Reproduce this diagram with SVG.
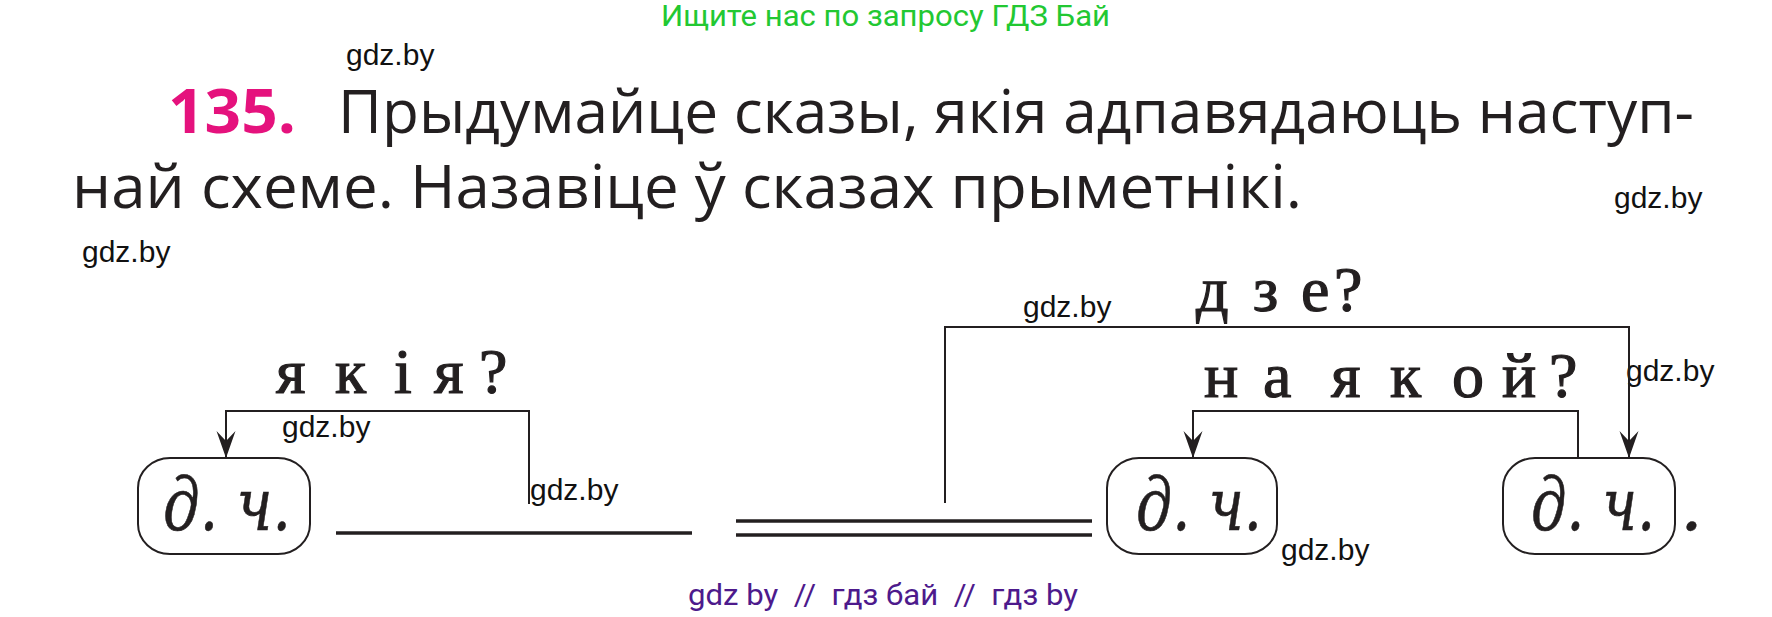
<svg xmlns="http://www.w3.org/2000/svg" width="1772" height="617" viewBox="0 0 1772 617">
<style>
.wm{font-family:"Liberation Sans",Arial,sans-serif;font-size:30px;fill:#111}
.title{font-family:"Open Sans","Noto Sans",sans-serif;font-size:60px;fill:#231f20}
.q{font-family:"Liberation Serif","Times New Roman",serif;font-size:64px;fill:#231f20;stroke:#231f20;stroke-width:1.2}
.node rect{fill:#fff;stroke:#231f20;stroke-width:2}
.node text,.pt{font-family:"DejaVu Serif","Liberation Serif",serif;font-style:italic;font-size:72px;fill:#231f20;stroke:#231f20;stroke-width:0.6}
.br{fill:none;stroke:#231f20;stroke-width:2}
.ul{stroke:#231f20;stroke-width:3.5}
</style>
<defs>
<marker id="ah" markerUnits="userSpaceOnUse" viewBox="-28 -11 30 22" refX="0" refY="0" markerWidth="30" markerHeight="22" orient="auto">
<path d="M0,0 L-27,-9.5 L-17,0 L-27,9.5 Z" fill="#231f20"/>
</marker>
</defs>
<rect width="1772" height="617" fill="#fff"/>
<text x="661" y="26" font-family="Roboto,'Liberation Sans',sans-serif" font-size="30" fill="#22c832" textLength="449" lengthAdjust="spacingAndGlyphs">Ищите нас по запросу ГДЗ Бай</text>
<g id="title">
<text x="168" y="133" font-family="'Open Sans','Noto Sans',sans-serif" font-size="60" font-weight="bold" fill="#e5127d" textLength="128" lengthAdjust="spacingAndGlyphs">135.</text>
<text class="title" x="338" y="133" textLength="1356" lengthAdjust="spacingAndGlyphs">Прыдумайце сказы, якія адпавядаюць наступ-</text>
<text class="title" x="72" y="208" textLength="1230" lengthAdjust="spacingAndGlyphs">най схеме. Назавіце ў сказах прыметнікі.</text>
</g>
<g id="watermarks">
<text class="wm" x="346" y="65">gdz.by</text>
<text class="wm" x="1614" y="208">gdz.by</text>
<text class="wm" x="82" y="262">gdz.by</text>
<text class="wm" x="1023" y="317">gdz.by</text>
<text class="wm" x="1626" y="381">gdz.by</text>
<text class="wm" x="282" y="437">gdz.by</text>
<text class="wm" x="530" y="500">gdz.by</text>
<text class="wm" x="1281" y="560">gdz.by</text>
</g>
<g id="labels">
<text class="q" x="276 335 394 434 479" y="393">якія?</text>
<text class="q" x="1196 1253 1301 1334" y="311" font-size="70">дзе?</text>
<text class="q" x="1204 1263 1300 1331 1390 1452 1502 1549" y="397">на якой?</text>
</g>
<g id="connectors">
<path class="br" d="M529,504 V411 H226 V458" marker-end="url(#ah)"/>
<path class="br" d="M945,503 V327 H1629 V458" marker-end="url(#ah)"/>
<path class="br" d="M1578,458 V411 H1193 V458" marker-end="url(#ah)"/>
<line class="ul" x1="336" y1="533" x2="692" y2="533"/>
<line class="ul" x1="736" y1="521" x2="1092" y2="521"/>
<line class="ul" x1="736" y1="535" x2="1092" y2="535"/>
</g>
<g id="node1" class="node">
<rect x="138" y="458" width="172" height="96" rx="32" ry="30"/>
<text x="163" y="530" textLength="128" lengthAdjust="spacingAndGlyphs">д. ч.</text>
</g>
<g id="node2" class="node">
<rect x="1107" y="458" width="170" height="96" rx="32" ry="30"/>
<text x="1136" y="530" textLength="126" lengthAdjust="spacingAndGlyphs">д. ч.</text>
</g>
<g id="node3" class="node">
<rect x="1503" y="458" width="172" height="96" rx="32" ry="30"/>
<text x="1531" y="530" textLength="124" lengthAdjust="spacingAndGlyphs">д. ч.</text>
</g>
<text class="pt" x="1680" y="530">.</text>
<text x="688" y="605" xml:space="preserve" font-family="Roboto,'Liberation Sans',sans-serif" font-size="30" fill="#4d1a8c" textLength="390" lengthAdjust="spacingAndGlyphs">gdz by  //  гдз бай  //  гдз by</text>
</svg>
